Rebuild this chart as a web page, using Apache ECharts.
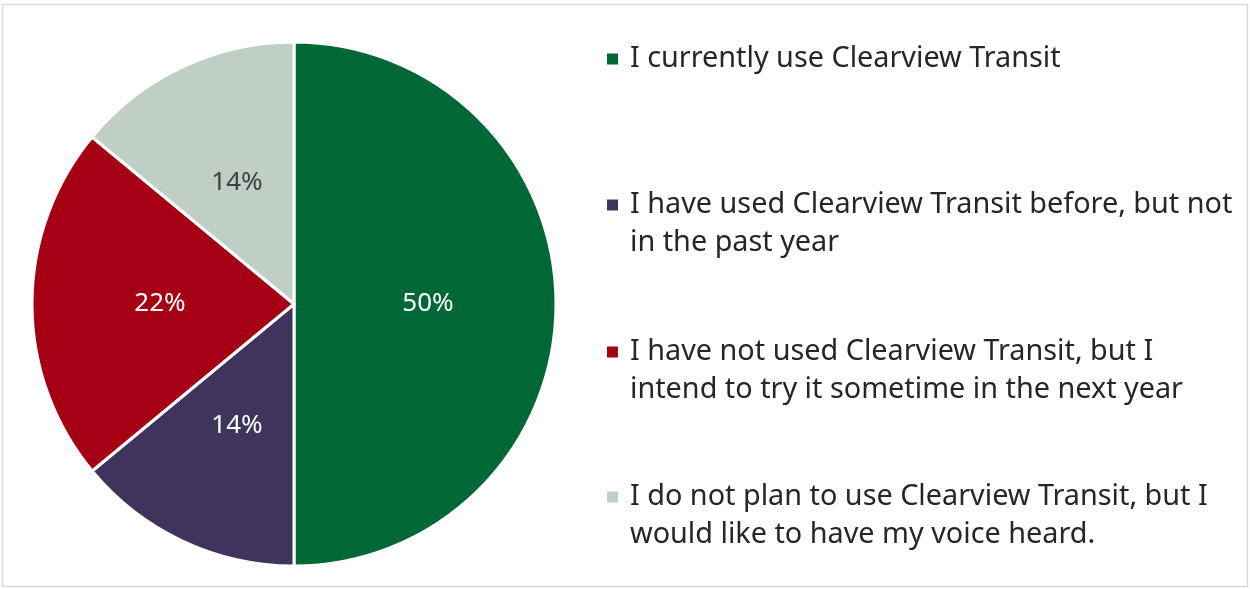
<!DOCTYPE html>
<html><head><meta charset="utf-8">
<script src="https://cdn.jsdelivr.net/npm/echarts@6/dist/echarts.min.js"></script>
<style>html,body{margin:0;padding:0;background:#fff;}#c{width:1250px;height:589px;}</style>
</head><body><div id="c"></div>
<script>
const categories = [
  "I currently use Clearview Transit",
  "I have used Clearview Transit before, but not in the past year",
  "I have not used Clearview Transit, but I intend to try it sometime in the next year",
  "I do not plan to use Clearview Transit, but I would like to have my voice heard."
];
const legendLines = [
  ["I currently use Clearview Transit"],
  ["I have used Clearview Transit before, but not", "in the past year"],
  ["I have not used Clearview Transit, but I", "intend to try it sometime in the next year"],
  ["I do not plan to use Clearview Transit, but I", "would like to have my voice heard."]
];
const values = [50, 14, 22, 14];
const colors = ["#006837", "#3f345c", "#a50014", "#bfcfc6"];
const labelColors = ["#ffffff", "#ffffff", "#ffffff", "#404040"];
const legendTops = [40, 148, 295, 440];

const chart = echarts.init(document.getElementById('c'));
const font = "'Noto Sans', sans-serif";
const legends = categories.map((name, i) => ({
  data: [name],
  orient: 'vertical',
  left: 605,
  top: legendTops[i],
  padding: 0,
  icon: 'rect',
  itemWidth: 13,
  itemHeight: 13,
  itemGap: 11,
  selectedMode: false,
  formatter: () => legendLines[i].length > 1 ? '\n' + legendLines[i].join('\n') : legendLines[i][0],
  textStyle: { fontSize: 28.8, lineHeight: 38, color: '#262626', fontFamily: font, padding: [0,0,0,6] }
}));
chart.setOption({
  animation: false,
  color: colors,
  graphic: [{ type: 'rect', shape: { x: 2.5, y: 4.5, width: 1245, height: 582 }, style: { fill: null, stroke: '#d9d9d9', lineWidth: 1.5 }, silent: true }],
  legend: legends,
  series: [{
    type: 'pie',
    center: [294, 304],
    radius: [0, 262],
    startAngle: 90,
    clockwise: true,
    avoidLabelOverlap: false,
    itemStyle: { borderColor: '#fff', borderWidth: 3 },
    label: { show: true, position: 'inside', fontSize: 26, fontFamily: font, formatter: p => p.value + '%' },
    labelLine: { show: false },
    emphasis: { disabled: true },
    data: categories.map((name, i) => ({ name, value: values[i], label: { color: labelColors[i] } }))
  }]
});
</script></body></html>
